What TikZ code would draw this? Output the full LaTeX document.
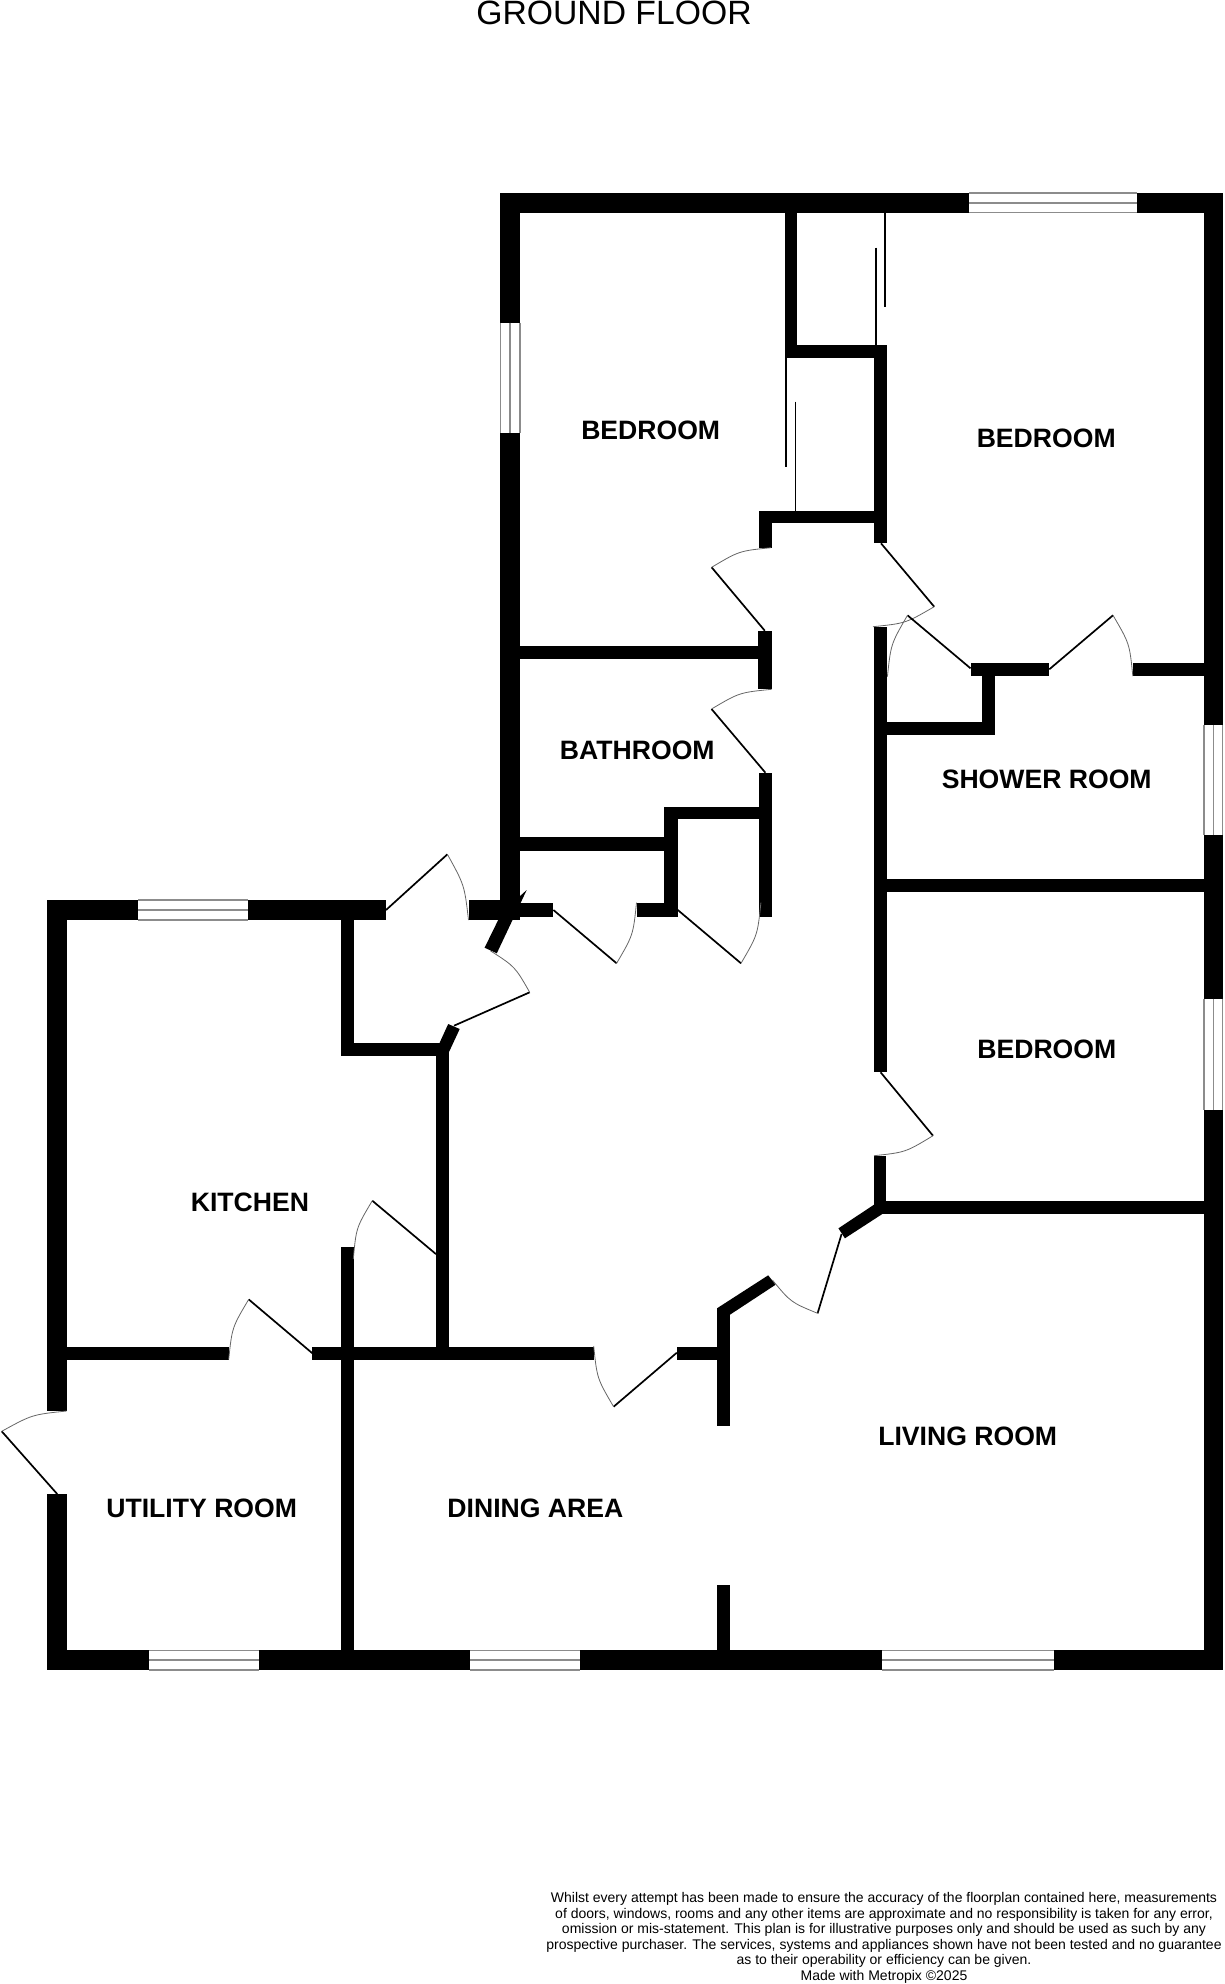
\documentclass[tikz,border=0pt]{standalone}
\usepackage{fontspec}
\setmainfont{Liberation Sans}
\usetikzlibrary{calc}
\tikzset{
  wall/.style={fill=black},
  leaf/.style={draw=black,line width=1.7pt},
  swing/.style={draw=black!60,line width=0.8pt},
  rail/.style={draw=black,line width=1.6pt},
  pane/.style={draw=black!45,line width=1.5pt},
  roomlabel/.style={font=\fontsize{26.6}{30}\selectfont\bfseries,inner sep=0pt}
}
% hinge, end of leaf, end of swing
\newcommand{\doorleaf}[3]{
  \draw[leaf] (#1) -- (#2);
  \draw[swing] (#2) .. controls ($(#1)!1.09!($(#2)!.5!(#3)$)$) .. (#3);
}
% left, right, top, bottom
\newcommand{\hpane}[4]{
  \draw[pane] (#1,#3) -- (#2,#3) (#1,{(#3+#4)/2}) -- (#2,{(#3+#4)/2}) (#1,#4) -- (#2,#4);
}
\newcommand{\vpane}[4]{
  \draw[pane] (#1,#3) -- (#1,#4) ({(#1+#2)/2},#3) -- ({(#1+#2)/2},#4) (#2,#3) -- (#2,#4);
}
\begin{document}
\begin{tikzpicture}[x=1pt,y=-1pt]
  \useasboundingbox (0,0) rectangle (1224,1984);
  % outer walls
  \fill[wall] (500.4,193) rectangle (969.3,212.7);
  \fill[wall] (1137.3,193) rectangle (1223,212.7);
  \fill[wall] (500.4,193) rectangle (520,322.7);
  \fill[wall] (500.4,432.7) rectangle (520,920);
  \fill[wall] (1204,193) rectangle (1223,725);
  \fill[wall] (1204,835) rectangle (1223,998.7);
  \fill[wall] (1204,1110) rectangle (1223,1670);
  \fill[wall] (47,900) rectangle (138.3,920);
  \fill[wall] (248.3,900) rectangle (386,920);
  \fill[wall] (469.3,900) rectangle (520,920);
  \fill[wall] (47,900) rectangle (66.7,1411);
  \fill[wall] (47,1494) rectangle (66.7,1670);
  \fill[wall] (47,1650.3) rectangle (149,1670);
  \fill[wall] (259,1650.3) rectangle (470,1670);
  \fill[wall] (580,1650.3) rectangle (882,1670);
  \fill[wall] (1054.4,1650.3) rectangle (1223,1670);
  % wardrobes
  \fill[wall] (784.7,212) rectangle (797,358.3);
  \fill[wall] (784.7,345) rectangle (887.2,358.3);
  \fill[wall] (874,345) rectangle (887.2,543.3);
  \fill[wall] (758.6,510.7) rectangle (887.2,523.3);
  \fill[wall] (758.6,510.7) rectangle (771.6,547.7);
  \draw[rail] (884.8,212.7) -- (884.8,306.7);
  \draw[rail] (875.8,247.7) -- (875.8,345);
  \draw[rail] (786.1,358.3) -- (786.1,466.7);
  \draw[rail] (795.6,401.7) -- (795.6,510.7);
  % bathroom and cupboards
  \fill[wall] (520,646) rectangle (771.6,659.3);
  \fill[wall] (758.4,631) rectangle (771.6,689.3);
  \fill[wall] (758.6,772.7) rectangle (771.6,916.7);
  \fill[wall] (664,806.7) rectangle (771.6,819.3);
  \fill[wall] (664,806.7) rectangle (677.5,916.7);
  \fill[wall] (520,837.3) rectangle (664.4,850.7);
  \fill[wall] (520,903.3) rectangle (553.4,916.7);
  \fill[wall] (636.5,903.3) rectangle (677.8,916.7);
  % hall, east side
  \fill[wall] (874.2,626.7) rectangle (887,1072.3);
  \fill[wall] (874,1155.7) rectangle (886.4,1214);
  \fill[wall] (881,1201.3) rectangle (1204,1214.3);
  \fill[wall] (874.2,721.7) rectangle (994.7,735);
  \fill[wall] (981.5,662.7) rectangle (994.7,735);
  \fill[wall] (970.5,662.7) rectangle (1049.3,676);
  \fill[wall] (1132.8,662.7) rectangle (1204,676);
  \fill[wall] (887,879.3) rectangle (1204,892.3);
  % porch
  \fill[wall] (484.6,947.7) -- (496.8,953.3) -- (526.7,890) -- (519,897) -- (508,900) -- cycle;
  \fill[wall] (448.2,1024) -- (459.7,1029) -- (449,1052) -- (438.6,1045) -- cycle;
  \fill[wall] (340.7,900) rectangle (353.7,1056);
  \fill[wall] (340.7,1043.3) rectangle (449,1056);
  \fill[wall] (436.3,1043.3) rectangle (449,1359.6);
  % kitchen, utility room, dining area
  \fill[wall] (66.7,1346.7) rectangle (228.7,1359.6);
  \fill[wall] (312.3,1346.7) rectangle (593.7,1359.6);
  \fill[wall] (341,1247.4) rectangle (353.7,1650.3);
  \fill[wall] (676.8,1346.7) rectangle (717,1359.6);
  % living room
  \fill[wall] (717,1308.3) rectangle (729.5,1425.7);
  \fill[wall] (717,1585) rectangle (729.5,1650.3);
  \fill[wall] (717,1308.3) -- (768.2,1275.3) -- (775.6,1284.7) -- (729.5,1315) -- cycle;
  \fill[wall] (874,1204.7) -- (838.4,1228.3) -- (844.9,1238.3) -- (882.3,1214) -- cycle;
  % windows
  \hpane{969.3}{1137.3}{193}{212.7}
  \hpane{138.3}{248.3}{900}{920}
  \hpane{149}{259}{1650.3}{1670}
  \hpane{470}{580}{1650.3}{1670}
  \hpane{882}{1054.4}{1650.3}{1670}
  \vpane{500.4}{520}{322.7}{432.7}
  \vpane{1204}{1222.5}{725}{835}
  \vpane{1204}{1222.5}{998.7}{1110}
  % doors
  \doorleaf{764.8,630.7}{711.6,567.3}{771,547.7}
  \doorleaf{881,543.3}{934.2,606.7}{873,626.7}
  \doorleaf{970.5,668.3}{907.5,615.3}{887.4,676.7}
  \doorleaf{1049.3,669.3}{1113,615.3}{1132.8,676}
  \doorleaf{765.4,772.7}{711.5,709}{771.6,689.3}
  \doorleaf{386,910}{447.4,854.3}{468.5,920}
  \doorleaf{454,1025.7}{529.7,992.3}{490.3,950.7}
  \doorleaf{553.4,910}{616.6,963.3}{636.5,902.7}
  \doorleaf{677.8,910}{741,963.3}{760.9,902.7}
  \doorleaf{880.6,1072.3}{933,1135.7}{874,1155.7}
  \doorleaf{841.6,1234}{817.6,1313.3}{772.4,1280}
  \doorleaf{676.8,1352.7}{613.6,1406.7}{593.7,1346}
  \doorleaf{57.3,1494.1}{1.7,1431.3}{66.7,1411}
  \doorleaf{312.3,1353.2}{248.7,1299.4}{228.7,1359.6}
  \doorleaf{436,1254.1}{372.3,1200.7}{353.3,1259}
  % labels
  \node[font=\fontsize{33.7}{36}\selectfont,inner sep=0pt] (title) at (614,13) {GROUND FLOOR};
  \node[roomlabel] (bedwest) at (650.7,430) {BEDROOM};
  \node[roomlabel] (bednorth) at (1046.2,438.3) {BEDROOM};
  \node[roomlabel] (bathroom) at (637.3,750.6) {BATHROOM};
  \node[roomlabel] (shower) at (1046.7,779.3) {SHOWER ROOM};
  \node[roomlabel] (bedeast) at (1046.8,1049.4) {BEDROOM};
  \node[roomlabel] (kitchen) at (250,1202.2) {KITCHEN};
  \node[roomlabel] (living) at (967.7,1436) {LIVING ROOM};
  \node[roomlabel] (utility) at (201.7,1508.4) {UTILITY ROOM};
  \node[roomlabel] (dining) at (535.4,1508.8) {DINING AREA};
  \node[font=\fontsize{14}{15.5}\selectfont,align=center,inner sep=0pt] (disclaimer) at (884,1938) {Whilst every attempt has been made to ensure the accuracy of the floorplan contained here, measurements\\of doors, windows, rooms and any other items are approximate and no responsibility is taken for any error,\\omission or mis-statement. This plan is for illustrative purposes only and should be used as such by any\\prospective purchaser. The services, systems and appliances shown have not been tested and no guarantee\\as to their operability or efficiency can be given.\\Made with Metropix \textcopyright2025};
\end{tikzpicture}
\end{document}
